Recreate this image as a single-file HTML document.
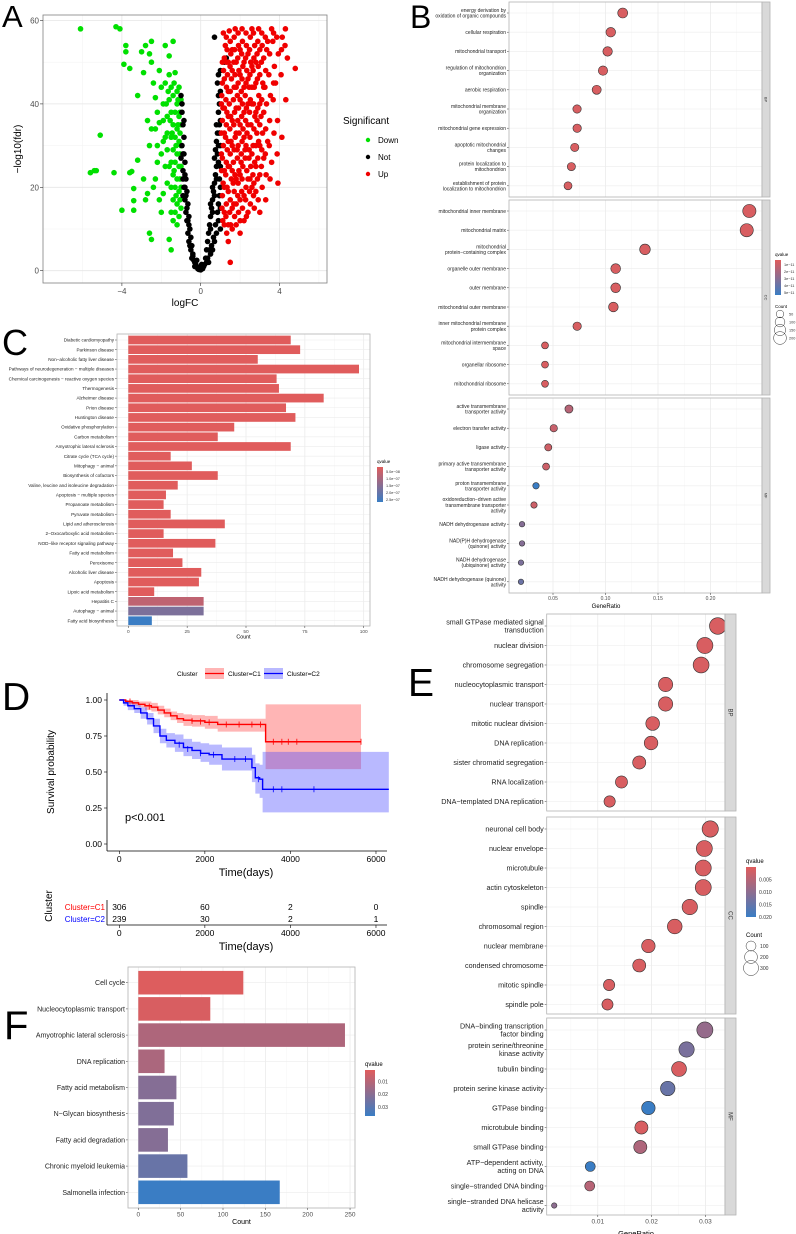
<!DOCTYPE html>
<html><head><meta charset="utf-8"><style>
html,body{margin:0;padding:0;background:#fff;}
svg{display:block;font-family:"Liberation Sans",Arial,sans-serif;}
</style></head><body>
<svg id="fig" width="796" height="1234" viewBox="0 0 796 1234" xmlns="http://www.w3.org/2000/svg">
<rect x="0" y="0" width="796" height="1234" fill="#fff"/>
</svg>
<script>
// ---------- Panel A data (logFC, -log10 fdr) ----------
const volcanoDown = [[-6.1,58],[-4.3,58.5],[-4.1,58],[-5.1,32.5],[-5.6,23.5],[-5.4,24],[-5.3,24],[-4.4,23.5],[-4.0,14.5],[-3.4,14.5],[-3.6,23.5],[-3.5,23.8],[-3.8,54],[-3.8,52.5],[-3.9,49.5],[-3.6,48.5],[-3.4,16.8],[-3.4,19.7],[-3.2,42],[-3.2,26.5],[-3.0,52.5],[-2.8,54],[-2.9,47.5],[-2.8,17],[-2.9,22],[-2.6,9],[-2.5,7.5],[-2.7,18.5],[-2.5,55],[-2.6,52],[-2.5,50],[-2.4,45],[-2.3,41.5],[-2.2,38],[-2.1,35.5],[-2.2,30],[-2.0,28],[-2.3,22],[-2.4,20],[-2.1,17],[-2.0,14],[-1.9,18.5],[-1.8,45],[-1.9,40],[-1.9,36],[-1.8,32],[-1.7,29],[-1.8,25],[-1.7,21],[-1.8,54],[-1.6,51.5],[-1.6,47],[-1.5,44],[-1.6,41],[-1.5,38],[-1.4,35],[-1.5,32],[-1.4,29],[-1.5,26],[-1.4,23],[-1.5,20],[-1.4,17],[-1.5,14],[-1.4,12],[-1.6,7.5],[-1.5,5],[-1.4,55],[-1.3,47.5],[-1.2,43],[-1.2,40],[-1.1,37],[-1.2,34],[-1.1,31],[-1.2,28],[-1.1,25],[-1.2,22],[-1.1,19],[-1.2,16],[-1.1,13],[-1.0,41],[-1.0,35],[-1.0,30],[-1.0,25],[-1.0,20],[-1.0,15],[-1.3,38],[-1.3,32],[-1.3,26],[-1.3,20],[-1.7,37],[-1.7,33],[-1.9,31],[-2.0,44],[-1.6,25],[-1.2,11],[-1.4,42],[-1.1,44],[-2.1,48],[-2.3,34],[-2.6,30],[-1.3,14],[-1.25,18],[-1.15,35],[-1.35,45],[-1.05,38],[-1.05,33],[-1.05,28],[-1.05,22],[-1.05,17],[-1.15,41],[-1.25,30],[-1.35,24],[-1.45,33],[-1.55,36],[-1.65,43],[-1.75,40],[-2.2,26],[-2.5,34],[-2.7,36]];
const volcanoNot = [[-1.0,42],[-0.95,38],[-0.9,35],[-0.85,32],[-0.95,30],[-0.85,28],[-0.8,26],[-0.9,24],[-0.75,22],[-0.85,20],[-0.7,19],[-0.8,17],[-0.65,16],[-0.75,14],[-0.6,13],[-0.7,12],[-0.55,10],[-0.65,9],[-0.5,8],[-0.6,7],[-0.45,6],[-0.5,5],[-0.4,4],[-0.45,3],[-0.35,2.5],[-0.3,2],[-0.25,1.5],[-0.2,1],[-0.15,0.5],[-0.1,0.3],[0,0.2],[0.1,0.5],[0.15,1],[0.2,1.5],[-0.9,22],[-0.8,20],[-0.7,15],[-0.6,11],[-1.0,27],[-0.9,18],[-0.55,6],[-0.4,3.5],[-0.3,1],[-0.2,2.5],[-0.05,0.8],[0.05,1.5],[0.25,3],[0.3,5],[0.35,7],[0.4,9],[0.45,11],[0.5,13],[0.55,15],[0.6,17],[0.65,19],[0.7,21],[0.75,23],[0.8,25],[0.85,28],[0.9,30],[0.95,33],[1.0,36],[0.9,38],[0.95,40],[1.0,43],[0.85,45],[0.9,47],[1.0,48],[1.2,50],[1.3,51],[0.7,56],[0.5,10],[0.6,14],[0.7,18],[0.8,22],[0.9,26],[1.0,30],[1.0,20],[1.0,15],[0.9,12],[0.8,9],[0.7,7],[0.6,5],[0.5,4],[0.4,2],[0.3,2],[1.0,25],[0.95,18],[0.85,14],[0.75,11],[0.65,8],[0.55,6],[0.45,5],[0.35,3],[1.0,10],[0.95,35],[0.85,33],[0.8,31],[0.75,29],[-0.95,40],[-0.9,28],[-0.8,23],[0.95,22],[0.9,16],[-0.85,36],[-0.75,18],[-0.65,12],[0.9,42],[0.8,35],[0.7,27],[0.6,20],[0.5,16]];
const volcanoUp = [[1.12,12],[1.08,15],[1.1,18],[1.14,21],[1.06,24],[1.1,27],[1.15,30],[1.05,33],[1.1,36],[1.13,39],[1.07,42],[1.1,45],[1.16,48],[1.2,51],[1.25,54],
[1.32,9],[1.28,13],[1.3,16],[1.34,20],[1.27,23],[1.3,26],[1.35,29],[1.26,32],[1.3,35],[1.33,38],[1.28,41],[1.31,44],[1.36,47],[1.3,50],[1.34,53],[1.3,56],
[1.52,11],[1.47,14],[1.5,17],[1.55,22],[1.46,25],[1.5,28],[1.54,31],[1.48,34],[1.52,37],[1.45,40],[1.5,43],[1.56,46],[1.49,49],[1.53,52],[1.5,55],
[1.72,13],[1.68,16],[1.7,19],[1.74,23],[1.66,26],[1.7,29],[1.75,32],[1.68,35],[1.72,38],[1.66,41],[1.7,44],[1.74,47],[1.68,50],[1.72,53],[1.7,56],[1.75,58],
[1.92,14],[1.88,18],[1.9,21],[1.94,24],[1.86,27],[1.9,30],[1.95,33],[1.88,36],[1.92,39],[1.86,42],[1.9,45],[1.94,48],[1.88,51],[1.92,54],[1.9,57],
[2.12,15],[2.08,19],[2.1,22],[2.14,25],[2.06,28],[2.1,31],[2.15,34],[2.08,37],[2.12,40],[2.06,43],[2.1,46],[2.14,49],[2.08,52],[2.12,55],[2.1,58],
[2.32,13],[2.28,17],[2.3,20],[2.34,24],[2.26,27],[2.3,30],[2.35,33],[2.28,36],[2.32,39],[2.26,42],[2.3,45],[2.34,48],[2.28,51],[2.32,54],[2.3,57],
[2.52,16],[2.48,19],[2.5,22],[2.54,25],[2.46,29],[2.5,32],[2.55,35],[2.48,38],[2.52,41],[2.46,44],[2.5,47],[2.54,50],[2.48,53],[2.52,56],
[2.72,15],[2.68,18],[2.7,21],[2.74,26],[2.66,30],[2.7,34],[2.75,37],[2.68,40],[2.72,44],[2.66,48],[2.7,51],[2.74,54],[2.68,57],
[2.92,17],[2.88,22],[2.9,27],[2.94,31],[2.86,36],[2.9,39],[2.95,42],[2.88,46],[2.92,49],[2.86,52],[2.9,55],[2.94,58],
[3.12,20],[3.08,25],[3.1,29],[3.14,33],[3.06,37],[3.1,41],[3.15,45],[3.08,50],[3.12,54],[3.1,57],
[3.32,23],[3.28,28],[3.3,34],[3.34,40],[3.26,44],[3.3,48],[3.35,53],[3.28,56],
[3.52,22],[3.48,30],[3.5,36],[3.54,42],[3.46,47],[3.5,52],
[3.72,33],[3.68,41],[3.7,45],[3.74,49],[3.66,55],[3.7,57],
[3.92,21],[3.88,28],[3.9,36],[3.94,52],[3.86,56],
[4.12,32],[4.08,47],[4.1,53],[4.14,56],[4.32,41],[4.28,54],[4.3,58],
[1.5,2],[2.0,9],[4.8,48.5],[4.4,51],[3.0,14],[2.0,12],[1.2,11],[1.4,7],[1.6,10],[1.8,11],[2.2,12],[2.4,14],[1.15,57],[1.45,57.5],[2.6,58],[2.85,33],[2.65,23],[2.45,27],[2.25,29],[2.05,26],[1.85,29],[1.65,21],[1.4,19],[1.2,24],[1.4,31],[1.6,36],[1.8,39],[2.0,41],[2.2,44],[2.4,46],[2.6,49],[2.8,45],[3.0,47],[3.2,51],[3.4,55],[3.6,58],[3.0,35],[3.2,38],[3.4,31],[2.8,25],[3.0,23],[3.3,17],[3.6,26],[3.8,45],
[1.2,14],[1.2,20],[1.2,33],[1.2,39],[1.2,46],[1.4,11],[1.4,25],[1.4,37],[1.4,43],[1.4,50],[1.6,15],[1.6,24],[1.6,30],[1.6,48],[1.6,53],[1.8,16],[1.8,22],[1.8,33],[1.8,44],[1.8,50],[2.0,17],[2.0,23],[2.0,35],[2.0,47],[2.0,53],[2.2,18],[2.2,32],[2.2,38],[2.2,50],[2.4,22],[2.4,35],[2.4,40],[2.4,52],[2.6,20],[2.6,28],[2.6,40],[2.6,44],[2.8,19],[2.8,30],[2.8,38],[2.8,50],[3.0,30],[3.0,40],[3.0,53],[3.2,27],[3.2,44],[1.1,50],[1.05,40],[1.05,28]];

// ---------- Panel B data ----------
const bTermsBP = ["energy derivation by|oxidation of organic compounds","cellular respiration","mitochondrial transport","regulation of mitochondrion|organization","aerobic respiration","mitochondrial membrane|organization","mitochondrial gene expression","apoptotic mitochondrial|changes","protein localization to|mitochondrion","establishment of protein|localization to mitochondrion"];
const bRatioBP = [0.1164,0.105,0.102,0.0976,0.0916,0.0729,0.073,0.0707,0.0675,0.0643];
const bCountBP = [105,95,92,88,82,66,66,64,61,58];
const bQBP = [0.05,0.05,0.05,0.05,0.05,0.05,0.05,0.05,0.05,0.05];
const bTermsCC = ["mitochondrial inner membrane","mitochondrial matrix","mitochondrial|protein−containing complex","organelle outer membrane","outer membrane","mitochondrial outer membrane","inner mitochondrial membrane|protein complex","mitochondrial intermembrane|space","organellar ribosome","mitochondrial ribosome"];
const bRatioCC = [0.237,0.2345,0.1376,0.1097,0.1097,0.1075,0.073,0.0424,0.0424,0.0424];
const bCountCC = [215,212,124,99,99,97,66,38,38,38];
const bQCC = [0.05,0.05,0.05,0.05,0.05,0.05,0.05,0.05,0.05,0.05];
const bTermsMF = ["active transmembrane|transporter activity","electron transfer activity","ligase activity","primary active transmembrane|transporter activity","proton transmembrane|transporter activity","oxidoreduction−driven active|transmembrane transporter|activity","NADH dehydrogenase activity","NAD(P)H dehydrogenase|(quinone) activity","NADH dehydrogenase|(ubiquinone) activity","NADH dehydrogenase (quinone)|activity"];
const bRatioMF = [0.0652,0.0507,0.0455,0.0434,0.0338,0.0319,0.0205,0.0205,0.0195,0.0195];
const bCountMF = [59,46,41,39,30,29,18,18,17,17];
const bQMF = [0.25,0.15,0.1,0.12,1.0,0.12,0.55,0.55,0.6,0.7];

// ---------- Panel C data ----------
const cTerms = ["Diabetic cardiomyopathy","Parkinson disease","Non−alcoholic fatty liver disease","Pathways of neurodegeneration − multiple diseases","Chemical carcinogenesis − reactive oxygen species","Thermogenesis","Alzheimer disease","Prion disease","Huntington disease","Oxidative phosphorylation","Carbon metabolism","Amyotrophic lateral sclerosis","Citrate cycle (TCA cycle)","Mitophagy − animal","Biosynthesis of cofactors","Valine, leucine and isoleucine degradation","Apoptosis − multiple species","Propanoate metabolism","Pyruvate metabolism","Lipid and atherosclerosis","2−Oxocarboxylic acid metabolism","NOD−like receptor signaling pathway","Fatty acid metabolism","Peroxisome","Alcoholic liver disease","Apoptosis","Lipoic acid metabolism","Hepatitis C","Autophagy − animal","Fatty acid biosynthesis"];
const cCounts = [69,73,55,98,63,64,83,67,71,45,38,69,18,27,38,21,16,15,18,41,15,37,19,23,31,30,11,32,32,10];
const cQ = [0,0,0,0,0,0,0,0,0,0,0,0,0,0,0,0,0,0,0,0,0,0,0,0,0,0,0,0.2,0.6,1.0];
const cTicks = [0,25,50,75,100];

// ---------- Panel D data ----------
const c1Time = [0,150,300,450,600,750,900,1050,1200,1350,1500,1700,2000,2300,3420,5650];
const c1Surv = [1,0.99,0.98,0.97,0.96,0.95,0.93,0.91,0.89,0.87,0.86,0.855,0.845,0.83,0.71,0.71];
const c1Up = [1,1,1,0.99,0.99,0.98,0.96,0.94,0.92,0.91,0.9,0.895,0.89,0.87,0.97,0.97];
const c1Lo = [1,0.98,0.96,0.95,0.93,0.92,0.9,0.88,0.86,0.84,0.82,0.815,0.8,0.78,0.52,0.52];
const c2Time = [0,100,200,350,500,650,800,950,1100,1300,1500,1700,1900,2100,2400,3100,3180,3280,3350,6300];
const c2Surv = [1,0.98,0.96,0.94,0.91,0.87,0.82,0.75,0.72,0.70,0.67,0.65,0.63,0.62,0.59,0.53,0.46,0.45,0.38,0.38];
const c2Up = [1,1,0.99,0.97,0.95,0.91,0.87,0.80,0.77,0.76,0.73,0.71,0.70,0.69,0.67,0.62,0.56,0.55,0.64,0.64];
const c2Lo = [1,0.96,0.93,0.91,0.87,0.83,0.77,0.70,0.67,0.64,0.61,0.59,0.57,0.55,0.51,0.43,0.35,0.32,0.22,0.22];
const c1Censor = [[250,0.99],[700,0.955],[1700,0.855],[1900,0.85],[2100,0.845],[2500,0.83],[2800,0.83],[3100,0.83],[3300,0.83],[3600,0.71],[3800,0.71],[3950,0.71],[4150,0.71],[5650,0.71]];
const c2Censor = [[1400,0.69],[1600,0.66],[1900,0.63],[2200,0.62],[2700,0.59],[2950,0.59],[3250,0.45],[3600,0.38],[3800,0.38],[4550,0.38]];
const riskTimes = [0,2000,4000,6000];
const riskC1 = [306,60,2,0];
const riskC2 = [239,30,2,1];
const survTicks = [0,0.25,0.5,0.75,1.0];

// ---------- Panel E data ----------
const eTermsBP = ["small GTPase mediated signal|transduction","nuclear division","chromosome segregation","nucleocytoplasmic transport","nuclear transport","mitotic nuclear division","DNA replication","sister chromatid segregation","RNA localization","DNA−templated DNA replication"];
const eRatioBP = [0.0323,0.0299,0.0292,0.0226,0.0226,0.0202,0.0199,0.0177,0.0144,0.0122];
const eCountBP = [380,350,340,260,260,235,230,210,170,140];
const eQBP = [0.05,0.05,0.05,0.05,0.05,0.05,0.05,0.05,0.05,0.05];
const eTermsCC = ["neuronal cell body","nuclear envelope","microtubule","actin cytoskeleton","spindle","chromosomal region","nuclear membrane","condensed chromosome","mitotic spindle","spindle pole"];
const eRatioCC = [0.0309,0.0298,0.0296,0.0296,0.0271,0.0243,0.0194,0.0177,0.0121,0.0118];
const eCountCC = [360,345,345,345,315,280,225,205,140,135];
const eQCC = [0.05,0.05,0.05,0.05,0.05,0.05,0.05,0.05,0.05,0.05];
const eTermsMF = ["DNA−binding transcription|factor binding","protein serine/threonine|kinase activity","tubulin binding","protein serine kinase activity","GTPase binding","microtubule binding","small GTPase binding","ATP−dependent activity,|acting on DNA","single−stranded DNA binding","single−stranded DNA helicase|activity"];
const eRatioMF = [0.0299,0.0265,0.0251,0.023,0.0194,0.0181,0.0179,0.0086,0.0085,0.0019];
const eCountMF = [350,310,290,270,225,210,210,100,100,12];
const eQMF = [0.45,0.62,0.05,0.72,1.0,0.05,0.3,1.0,0.25,0.5];

// ---------- Panel F data ----------
const fTerms = ["Cell cycle","Nucleocytoplasmic transport","Amyotrophic lateral sclerosis","DNA replication","Fatty acid metabolism","N−Glycan biosynthesis","Fatty acid degradation","Chronic myeloid leukemia","Salmonella infection"];
const fCounts = [124,85,244,31,45,42,35,58,167];
const fQ = [0.02,0.05,0.3,0.32,0.55,0.58,0.55,0.72,1.0];
const fTicks = [0,50,100,150,200,250];

const NS = "http://www.w3.org/2000/svg";
const svg = document.getElementById('fig');
function mk(tag, attrs, parent){ const e=document.createElementNS(NS,tag); for(const k in attrs) e.setAttribute(k, attrs[k]); (parent||svg).appendChild(e); return e; }
function group(name){ const g=mk('g',{});   return g; }
function txt(g, x, y, s, size, anchor, fill, rot){
  const t = mk('text',{x:x,y:y,'font-size':size,'text-anchor':anchor||'start',fill:fill||'#333'},g);
  if(rot) t.setAttribute('transform','rotate('+rot+' '+x+' '+y+')');
  t.textContent = s; return t;
}
function qColor(f){ const a=[224,92,92], b=[58,125,196]; const c=a.map((v,i)=>Math.round(v+(b[i]-v)*f)); return 'rgb('+c.join(',')+')'; }
function gradDef(id){
  const defs = mk('defs',{}); const lg = mk('linearGradient',{id:id,x1:0,y1:0,x2:0,y2:1},defs);
  mk('stop',{offset:'0',"stop-color":qColor(0)},lg); mk('stop',{offset:'0.5',"stop-color":qColor(0.5)},lg); mk('stop',{offset:'1',"stop-color":qColor(1)},lg);
}
gradDef('qgrad');

// ---------- Panel letters ----------
const letters = [['A',2,27,31],['B',410,28,32],['C',2,355,36],['D',2,710,39],['E',408,696,39],['F',4,1039,40]];
for(const L of letters){ const t = txt(svg, L[1], L[2], L[0], L[3], 'start', '#000');
  
   }

// ================= Panel A =================
(function(){
  const g = group('volcano-plot');
  const X0=43, X1=327, Y0=15, Y1=283;
  const sx = v => 200.7 + 19.7*v, sy = v => 270.7 - 4.17*v;
  mk('rect',{x:X0,y:Y0,width:X1-X0,height:Y1-Y0,fill:'#fff'},g);
  for(const v of [-6,-2,2,6]) mk('line',{x1:sx(v),x2:sx(v),y1:Y0,y2:Y1,stroke:'#f2f2f2','stroke-width':0.5},g);
  for(const v of [10,30,50]) mk('line',{x1:X0,x2:X1,y1:sy(v),y2:sy(v),stroke:'#f2f2f2','stroke-width':0.5},g);
  for(const v of [-4,0,4]) mk('line',{x1:sx(v),x2:sx(v),y1:Y0,y2:Y1,stroke:'#e6e6e6','stroke-width':0.8},g);
  for(const v of [0,20,40,60]) mk('line',{x1:X0,x2:X1,y1:sy(v),y2:sy(v),stroke:'#e6e6e6','stroke-width':0.8},g);
  const sets = [[volcanoDown,'#00e000','down'],[volcanoNot,'#000','not'],[volcanoUp,'#f00000','up']];
  for(const s of sets){ for(const p of s[0]){
    const c = mk('circle',{cx:sx(p[0]),cy:sy(p[1]),r:2.8,fill:s[1]},g);
    
     } }
  mk('rect',{x:X0,y:Y0,width:X1-X0,height:Y1-Y0,fill:'none',stroke:'#7f7f7f','stroke-width':0.8},g);
  for(const v of [0,20,40,60]){ mk('line',{x1:X0-3,x2:X0,y1:sy(v),y2:sy(v),stroke:'#333','stroke-width':0.6},g);
    txt(g,X0-4,sy(v)+3,String(v),8,'end','#4d4d4d'); }
  for(const v of [-4,0,4]){ mk('line',{x1:sx(v),x2:sx(v),y1:Y1,y2:Y1+3,stroke:'#333','stroke-width':0.6},g);
    txt(g,sx(v),Y1+11,v<0?'−'+Math.abs(v):String(v),8,'middle','#4d4d4d'); }
  const xt = txt(g,185,306,'logFC',10,'middle','#000');
  
  
  const yt = txt(g,21,149,'−log10(fdr)',10,'middle','#000',-90);
  
  
  const lt = txt(g,343,124,'Significant',10,'start','#000');
  
  
  const leg = [['Down','#00e000',140],['Not','#000',157],['Up','#f00000',174]];
  for(const l of leg){ mk('circle',{cx:368,cy:l[2],r:2.2,fill:l[1]},g);
    const t = txt(g,366+12,l[2]+3,l[0],8,'start','#000');
    
     }
})();

// ================= Dot plots (B, E) =================
function dotPlot(name, cfg){
  const g = group(name);
  const sx = v => cfg.x0 + v*cfg.k;
  cfg.facets.forEach((f,fi)=>{
    const top = cfg.tops[fi];
    mk('rect',{x:cfg.X0,y:top,width:cfg.X1-cfg.X0,height:cfg.h,fill:'#fff'},g);
    for(const v of cfg.minor) mk('line',{x1:sx(v),x2:sx(v),y1:top,y2:top+cfg.h,stroke:'#f4f4f4','stroke-width':0.5},g);
    for(const v of cfg.major) mk('line',{x1:sx(v),x2:sx(v),y1:top,y2:top+cfg.h,stroke:'#e8e8e8','stroke-width':0.7},g);
    f.terms.forEach((t,i)=>{ const y = top+cfg.first+i*cfg.step;
      mk('line',{x1:cfg.X0,x2:cfg.X1,y1:y,y2:y,stroke:'#ececec','stroke-width':0.6},g);
      mk('line',{x1:cfg.X0-2,x2:cfg.X0,y1:y,y2:y,stroke:'#333','stroke-width':0.5},g);
      const lines = t.split('|'); const lh = cfg.fs*1.12;
      lines.forEach((ln,li)=>{ txt(g,cfg.X0-3,y+cfg.fs*0.35+(li-(lines.length-1)/2)*lh,ln,cfg.fs,'end','#222'); });
    });
    f.terms.forEach((t,i)=>{ const y = top+cfg.first+i*cfg.step;
      const c = mk('circle',{cx:sx(f.ratio[i]),cy:y,r:cfg.r(f.count[i]),fill:qColor(f.q[i]),stroke:'#333','stroke-width':0.6},g);
      
       });
    mk('rect',{x:cfg.X0,y:top,width:cfg.X1-cfg.X0,height:cfg.h,fill:'none',stroke:'#b3b3b3','stroke-width':0.8},g);
    const st = mk('rect',{x:cfg.X1,y:top,width:cfg.sw,height:cfg.h,fill:'#d9d9d9',stroke:'#b3b3b3','stroke-width':0.8},g);
    
    
    txt(g,cfg.X1+cfg.sw/2-cfg.sfs*0.35,top+cfg.h/2,f.label,cfg.sfs,'middle','#333',90);
  });
  const bottom = cfg.tops[cfg.tops.length-1]+cfg.h;
  for(const v of cfg.major){ mk('line',{x1:sx(v),x2:sx(v),y1:bottom,y2:bottom+2,stroke:'#333','stroke-width':0.5},g);
    txt(g,sx(v),bottom+cfg.tfs+2,cfg.fmt(v),cfg.tfs,'middle','#4d4d4d'); }
  const at = txt(g,cfg.titleX,cfg.titleY,'GeneRatio',cfg.tfs+1,'middle','#000');
  
  
  const L = cfg.leg;
  txt(g,L.x,L.y,'qvalue',L.fs,'start','#000');
  const gr = mk('rect',{x:L.x,y:L.y+4,width:L.w,height:L.gh,fill:'url(#qgrad)'},g);
  
  
  L.labels.forEach((s,i)=>{ const y = L.y+4+L.gh*(L.lpos[i]); txt(g,L.x+L.w+3,y+L.fs*0.35,s,L.fs*0.85,'start','#333'); });
  txt(g,L.x,L.cy,'Count',L.fs,'start','#000');
  L.counts.forEach((c,i)=>{ const y=L.cy+L.cstep*(i+1)-2; const r=cfg.r(c);
    mk('circle',{cx:L.x+5,cy:y,r:r,fill:'none',stroke:'#333','stroke-width':0.5},g);
    txt(g,L.x+14,y+L.fs*0.3,String(c),L.fs*0.85,'start','#333'); });
}
dotPlot('go-dotplot-b',{X0:509,X1:762,sw:8,h:195,tops:[2,200,398],first:11,step:19.2,x0:500.5,k:1050,
  major:[0.05,0.10,0.15,0.20],minor:[0.025,0.075,0.125,0.175,0.225],fs:5,sfs:4,tfs:5,fmt:v=>v.toFixed(2),
  titleX:606,titleY:608,r:c=>1.2+0.37*Math.sqrt(c),
  facets:[{label:'BP',terms:bTermsBP,ratio:bRatioBP,count:bCountBP,q:bQBP},{label:'CC',terms:bTermsCC,ratio:bRatioCC,count:bCountCC,q:bQCC},{label:'MF',terms:bTermsMF,ratio:bRatioMF,count:bCountMF,q:bQMF}],
  leg:{x:775,y:256,fs:4.5,w:6,gh:35,labels:['1e−11','2e−11','3e−11','4e−11','5e−11'],lpos:[0.12,0.32,0.52,0.72,0.92],cy:308,cstep:8,counts:[50,100,150,200]}});
dotPlot('go-dotplot-e',{X0:546.7,X1:725,sw:11,h:197,tops:[614,817,1018],first:12,step:19.5,x0:544,k:5380,
  major:[0.01,0.02,0.03],minor:[0.005,0.015,0.025],fs:7.2,sfs:6,tfs:6.5,fmt:v=>v.toFixed(2),
  titleX:636,titleY:1236,r:c=>1.5+0.35*Math.sqrt(c),
  facets:[{label:'BP',terms:eTermsBP,ratio:eRatioBP,count:eCountBP,q:eQBP},{label:'CC',terms:eTermsCC,ratio:eRatioCC,count:eCountCC,q:eQCC},{label:'MF',terms:eTermsMF,ratio:eRatioMF,count:eCountMF,q:eQMF}],
  leg:{x:746,y:863,fs:6,w:10,gh:50,labels:['0.005','0.010','0.015','0.020'],lpos:[0.25,0.5,0.75,1.0],cy:937,cstep:11,counts:[100,200,300]}});

// ================= Bar charts (C, F) =================
function barChart(name, cfg){
  const g = group(name);
  const sx = v => cfg.x0 + v*cfg.k;
  mk('rect',{x:cfg.X0,y:cfg.Y0,width:cfg.X1-cfg.X0,height:cfg.Y1-cfg.Y0,fill:'#fff'},g);
  for(let i=0;i<cfg.ticks.length-1;i++){ const v=(cfg.ticks[i]+cfg.ticks[i+1])/2;
    mk('line',{x1:sx(v),x2:sx(v),y1:cfg.Y0,y2:cfg.Y1,stroke:'#f4f4f4','stroke-width':0.5},g); }
  for(const v of cfg.ticks) mk('line',{x1:sx(v),x2:sx(v),y1:cfg.Y0,y2:cfg.Y1,stroke:'#e8e8e8','stroke-width':0.7},g);
  cfg.terms.forEach((t,i)=>{ const y=cfg.first+i*cfg.step;
    mk('line',{x1:cfg.X0,x2:cfg.X1,y1:y,y2:y,stroke:'#ececec','stroke-width':0.6},g);
    const b = mk('rect',{x:sx(0),y:y-cfg.step*0.45,width:sx(cfg.counts[i])-sx(0),height:cfg.step*0.9,fill:qColor(cfg.q[i])},g);
    
    
    mk('line',{x1:cfg.X0-2,x2:cfg.X0,y1:y,y2:y,stroke:'#333','stroke-width':0.5},g);
    txt(g,cfg.X0-3,y+cfg.fs*0.35,t,cfg.fs,'end','#222'); });
  mk('rect',{x:cfg.X0,y:cfg.Y0,width:cfg.X1-cfg.X0,height:cfg.Y1-cfg.Y0,fill:'none',stroke:'#b3b3b3','stroke-width':0.8},g);
  for(const v of cfg.ticks){ mk('line',{x1:sx(v),x2:sx(v),y1:cfg.Y1,y2:cfg.Y1+2,stroke:'#333','stroke-width':0.5},g);
    txt(g,sx(v),cfg.Y1+cfg.tfs+2,String(v),cfg.tfs,'middle','#4d4d4d'); }
  const at = txt(g,(cfg.X0+cfg.X1)/2,cfg.Y1+cfg.tfs*2+3,'Count',cfg.tfs+0.5,'middle','#000');
  
  
  const L = cfg.leg;
  txt(g,L.x,L.y,'qvalue',L.fs,'start','#000');
  const gr = mk('rect',{x:L.x,y:L.y+4,width:L.w,height:L.gh,fill:'url(#qgrad)'},g);
  
  
  L.labels.forEach((s,i)=>{ const y=L.y+4+L.gh*L.lpos[i]; txt(g,L.x+L.w+3,y+L.fs*0.35,s,L.fs*0.85,'start','#333'); });
}
barChart('kegg-barchart-c',{X0:117,X1:370,Y0:334,Y1:626,x0:128.3,k:2.354,first:340,step:9.68,fs:4.6,tfs:4.8,
  terms:cTerms,counts:cCounts,q:cQ,ticks:cTicks,
  leg:{x:377,y:463,fs:4.5,w:6,gh:35,labels:['5.0e−08','1.0e−07','1.5e−07','2.0e−07','2.5e−07'],lpos:[0.12,0.32,0.52,0.72,0.92]}});
barChart('kegg-barchart-f',{X0:128,X1:355,Y0:967,Y1:1208,x0:138.3,k:0.847,first:982.7,step:26.2,fs:7,tfs:6.5,
  terms:fTerms,counts:fCounts,q:fQ,ticks:fTicks,
  leg:{x:365,y:1066,fs:6,w:10,gh:46,labels:['0.01','0.02','0.03'],lpos:[0.25,0.52,0.8]}});

// ================= Panel D =================
(function(){
  const g = group('survival-plot');
  const sx = t => 119.3 + t*0.04278, sy = p => 844 - 144*p;
  function stepPts(T,P){ let pts=[[sx(T[0]),sy(P[0])]]; for(let i=1;i<T.length;i++){ pts.push([sx(T[i]),sy(P[i-1])]); pts.push([sx(T[i]),sy(P[i])]); } return pts; }
  function band(T,U,Lo,fill,name){
    const up = stepPts(T,U), lo = stepPts(T,Lo).reverse();
    const p = mk('polygon',{points:up.concat(lo).map(q=>q.join(',')).join(' '),fill:fill},g);
    
     }
  band(c1Time,c1Up,c1Lo,'rgba(255,60,60,0.38)','ci-band-c1');
  band(c2Time,c2Up,c2Lo,'rgba(70,70,255,0.38)','ci-band-c2');
  function curve(T,P,col,name){ const l = mk('polyline',{points:stepPts(T,P).map(q=>q.join(',')).join(' '),fill:'none',stroke:col,'stroke-width':1.4},g);
    
     }
  curve(c1Time,c1Surv,'#ff0000','survival-curve-c1');
  curve(c2Time,c2Surv,'#0000ff','survival-curve-c2');
  for(const c of c1Censor){ mk('line',{x1:sx(c[0]),x2:sx(c[0]),y1:sy(c[1])-3,y2:sy(c[1])+3,stroke:'#ff0000','stroke-width':0.8},g); }
  for(const c of c2Censor){ mk('line',{x1:sx(c[0]),x2:sx(c[0]),y1:sy(c[1])-3,y2:sy(c[1])+3,stroke:'#0000ff','stroke-width':0.8},g); }
  mk('line',{x1:107,x2:107,y1:693,y2:851,stroke:'#000','stroke-width':0.8},g);
  mk('line',{x1:107,x2:387,y1:851,y2:851,stroke:'#000','stroke-width':0.8},g);
  for(const p of survTicks){ mk('line',{x1:104,x2:107,y1:sy(p),y2:sy(p),stroke:'#000','stroke-width':0.6},g);
    txt(g,102,sy(p)+3,p.toFixed(2),8.5,'end','#000'); }
  for(const t of riskTimes){ mk('line',{x1:sx(t),x2:sx(t),y1:851,y2:854,stroke:'#000','stroke-width':0.6},g);
    txt(g,sx(t),862,String(t),8.5,'middle','#000'); }
  const xt = txt(g,246,876,'Time(days)',11,'middle','#000');
  
  
  const yt = txt(g,54,772,'Survival probability',10,'middle','#000',-90);
  
  
  const pv = txt(g,125,821,'p<0.001',11,'start','#000');
  
  
  txt(g,177,676,'Cluster',6.5,'start','#000');
  mk('rect',{x:205,y:668,width:19,height:11,fill:'rgba(255,60,60,0.38)'},g);
  mk('line',{x1:205,x2:224,y1:673.5,y2:673.5,stroke:'#ff0000','stroke-width':1.2},g);
  const l1 = txt(g,228,676,'Cluster=C1',6.5,'start','#000');
  
  
  mk('rect',{x:264,y:668,width:19,height:11,fill:'rgba(70,70,255,0.38)'},g);
  mk('line',{x1:264,x2:283,y1:673.5,y2:673.5,stroke:'#0000ff','stroke-width':1.2},g);
  const l2 = txt(g,287,676,'Cluster=C2',6.5,'start','#000');
  
  
  const rg = group('risk-table');
  mk('line',{x1:107,x2:107,y1:900,y2:925,stroke:'#000','stroke-width':0.8},rg);
  mk('line',{x1:107,x2:387,y1:925,y2:925,stroke:'#000','stroke-width':0.8},rg);
  txt(rg,105,910,'Cluster=C1',8,'end','#ff0000');
  txt(rg,105,922,'Cluster=C2',8,'end','#0000ff');
  riskTimes.forEach((t,i)=>{ txt(rg,sx(t),910,String(riskC1[i]),8.5,'middle','#000'); txt(rg,sx(t),922,String(riskC2[i]),8.5,'middle','#000');
    mk('line',{x1:sx(t),x2:sx(t),y1:925,y2:928,stroke:'#000','stroke-width':0.6},rg);
    txt(rg,sx(t),936,String(t),8.5,'middle','#000'); });
  txt(rg,246,950,'Time(days)',11,'middle','#000');
  txt(rg,52,906,'Cluster',10,'middle','#000',-90);
})();
</script>
</body></html>
